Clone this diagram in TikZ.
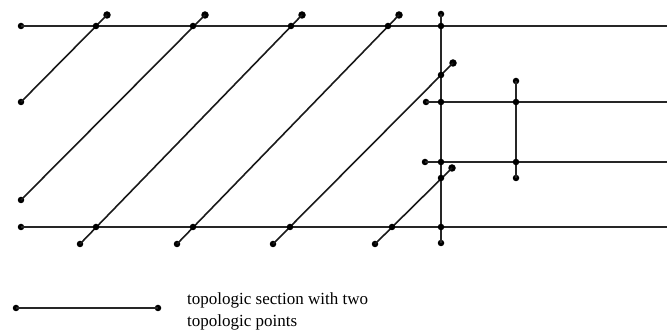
\documentclass[tikz,border=0pt]{standalone}
\usepackage{fontspec}
\setmainfont{Liberation Serif}
\begin{document}
\begin{tikzpicture}[x=1pt,y=-1pt,
  thick line/.style={line width=2pt,black!85},
  diag line/.style={line width=1.6pt,black!90},
  tp/.style={circle,fill=black,inner sep=0pt,minimum size=6.5pt},
  tpx/.style={circle,fill=black,inner sep=0pt,minimum size=7.5pt}]
\useasboundingbox (0,0) rectangle (667,336);
% horizontal lines
\node[tp] (h1a) at (21,26) {};
\coordinate (h1b) at (667,26);
\node[tp] (h2a) at (21,227) {};
\coordinate (h2b) at (667,227);
\node[tp] (h3a) at (426,102) {};
\coordinate (h3b) at (667,102);
\node[tp] (h4a) at (425,162) {};
\coordinate (h4b) at (667,162);
\draw[thick line] (h1a.center) -- (h1b);
\draw[thick line] (h2a.center) -- (h2b);
\draw[thick line] (h3a.center) -- (h3b);
\draw[thick line] (h4a.center) -- (h4b);
% verticals
\node[tp] (v1a) at (441,14) {};
\node[tp] (v1b) at (441,243) {};
\draw[thick line] (v1a.center) -- (v1b.center);
\node[tp] (v2a) at (516,81) {};
\node[tp] (v2b) at (516,178) {};
\draw[thick line] (v2a.center) -- (v2b.center);
% diagonals
\node[tp] (d1a) at (21,102) {};
\node[tpx] (d1b) at (107,15) {};
\node[tp] (d2a) at (21,200) {};
\node[tpx] (d2b) at (205,15) {};
\node[tp] (d3a) at (80,244) {};
\node[tpx] (d3b) at (302,15) {};
\node[tp] (d4a) at (177,244) {};
\node[tpx] (d4b) at (399,15) {};
\node[tp] (d5a) at (273,244) {};
\node[tpx] (d5b) at (453,63) {};
\node[tp] (d6a) at (375,244) {};
\node[tpx] (d6b) at (452,168) {};
\foreach \i in {1,...,6}{\draw[diag line] (d\i a.center) -- (d\i b.center);}
% crossing points
\foreach \p [count=\k] in {(96,26),(193,26),(291,26),(388,26),(441,26),
  (96,227),(193,227),(290,227),(392,227),(441,227),
  (441,75),(441,102),(516,102),(441,162),(516,162),(441,178)}
  {\node[tp] (x\k) at \p {};}
% legend
\node[tp] (la) at (16,308) {};
\node[tp] (lb) at (158,308) {};
\draw[thick line] (la.center) -- (lb.center);
\node[anchor=base west,font=\fontsize{17}{22}\selectfont,inner sep=0pt,align=left] (lt) at (187,327)
  {topologic section with two\\topologic points};
\end{tikzpicture}
\end{document}
